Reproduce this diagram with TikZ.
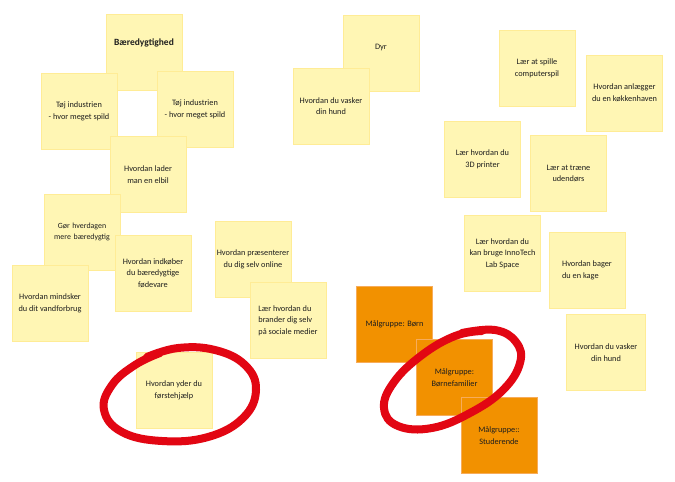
\documentclass[tikz,border=0pt]{standalone}
\usepackage{fontspec}
\setmainfont{Carlito}
\definecolor{notefill}{RGB}{255,246,180}
\definecolor{noteedge}{RGB}{255,236,150}
\definecolor{orangefill}{RGB}{242,145,0}
\definecolor{orangeedge}{RGB}{247,172,90}
\definecolor{loopred}{RGB}{226,6,19}
\definecolor{notetext}{RGB}{30,30,30}
\begin{document}
\begin{tikzpicture}[x=1pt,y=-1pt,
  note/.style={draw=noteedge, fill=notefill, line width=0.8pt,
    minimum width=76pt, minimum height=76pt, inner sep=0pt,
    align=center, text=notetext, font=\fontsize{8.3}{11.7}\selectfont},
  onote/.style={note, draw=orangeedge, fill=orangefill},
  loopline/.style={draw=loopred, line width=8pt, line cap=round, line join=round}]
\useasboundingbox (0,0) rectangle (675,482);
\fill[white] (0,0) rectangle (675,482);

% left cluster
\node[note, font=\bfseries\fontsize{9.5}{11}\selectfont, text depth=20pt] (baer) at (144,52.5) {Bæredygtighed};
\node[note] (toj1) at (79,111.5) {Tøj industrien\\- hvor meget spild};
\node[note] (toj2) at (195,109) {Tøj industrien\\- hvor meget spild};
\node[note] (elbil) at (148,174.5) {Hvordan lader\\man en elbil};
\node[note, font=\fontsize{7.9}{11.7}\selectfont, text width=66pt, xshift=-1pt] (gor) at (83,232) {Gør hverdagen\\mere bæredygtig};
\node[note] (mindsk) at (50,303) {Hvordan mindsker\\du dit vandforbrug};
\node[note] (indkob) at (153,273) {Hvordan indkøber\\du bæredygtige\\fødevare};
\node[note] (praes) at (253,259.5) {Hvordan præsenterer\\du dig selv online};
\node[note, align=left] (brand) at (288,320.5) {Lær hvordan du\\brander dig selv\\på sociale medier};
\node[note] (yder) at (174,390) {Hvordan yder du\\førstehjælp};

% middle
\node[note, text depth=12pt] (dyr) at (381,53) {Dyr};
\node[note] (hund1) at (331,106) {Hvordan du vasker\\din hund};

% right cluster
\node[note] (spil) at (537,68) {Lær at spille\\computerspil};
\node[note] (have) at (624.5,93) {Hvordan anlægger\\du en køkkenhaven};
\node[note] (print) at (482.5,159) {Lær hvordan du\\3D printer};
\node[note] (traene) at (568.5,173.5) {Lær at træne\\udendørs};
\node[note] (inno) at (502.5,253.5) {Lær hvordan du\\kan bruge InnoTech\\Lab Space};
\node[note, align=left] (bager) at (587,270) {Hvordan bager\\du en kage};
\node[note, minimum width=79pt] (hund2) at (606,352.5) {Hvordan du vasker\\din hund};

% target groups
\node[onote] (born) at (394.5,324) {Målgruppe: Børn};
\node[onote] (famil) at (454.5,377.5) {Målgruppe:\\Børnefamilier};
\node[onote] (stud) at (499,435.5) {Målgruppe::\\Studerende};

% red loops
\draw[loopline] plot[smooth, tension=0.7] coordinates {
  (147,357) (178,348) (215,350) (245,365) (256,390) (243,418) (208,437)
  (162,441) (122,432) (104,410) (112,385) (135,365) (160,353)};
\draw[loopline] plot[smooth, tension=0.7] coordinates {
  (462,333) (495,330) (516,342) (520,363) (503,390) (470,413) (432,428)
  (398,426) (384,408) (394,382) (422,355) (455,336) (482,331)};
\end{tikzpicture}
\end{document}
